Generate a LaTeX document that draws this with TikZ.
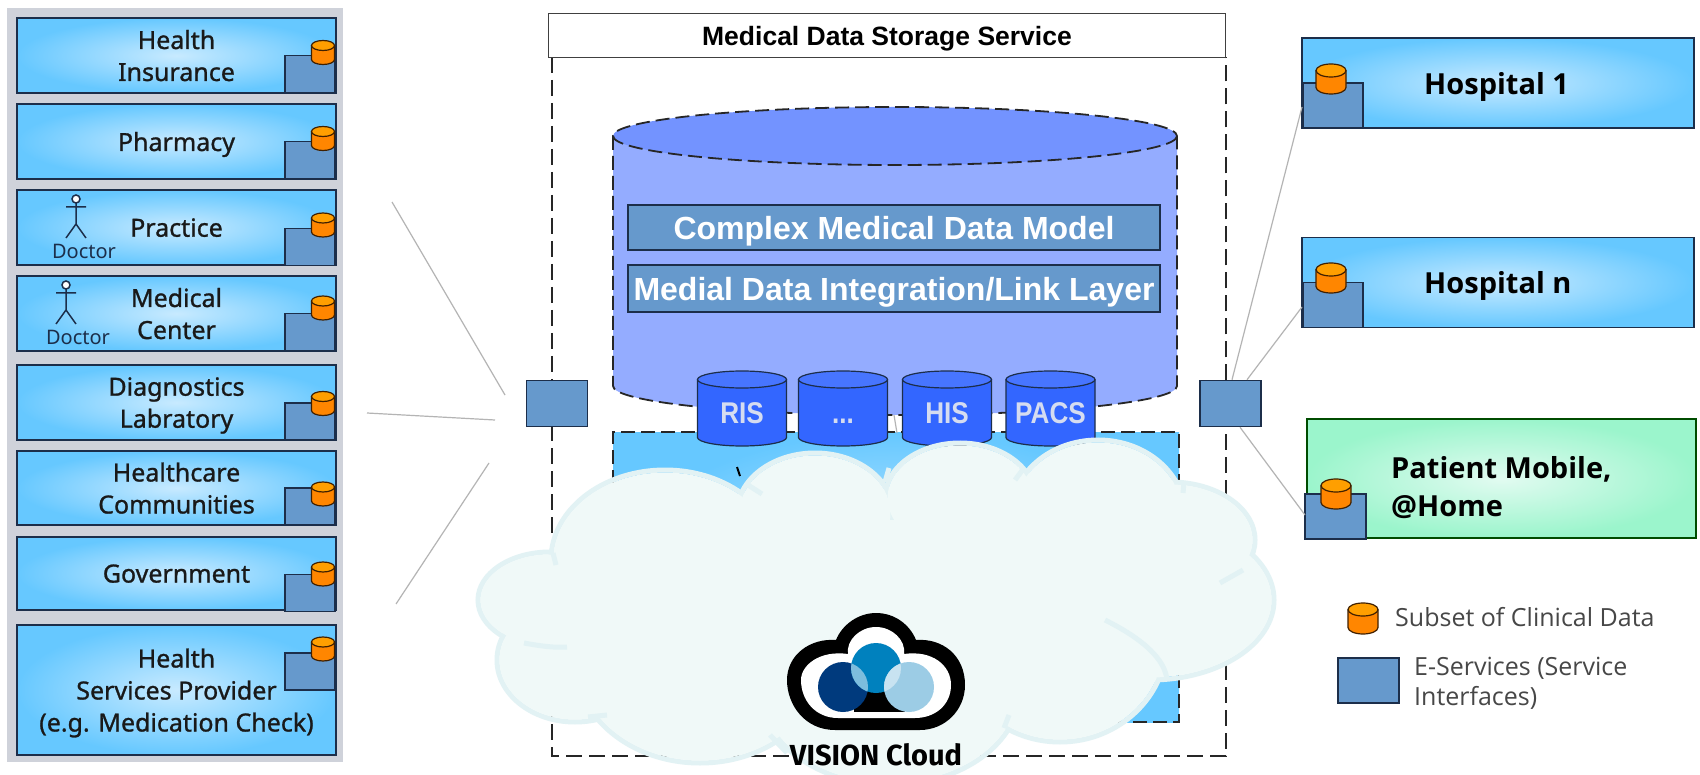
\documentclass[tikz,border=0pt]{standalone}
\usepackage{fontspec}
\setmainfont{Noto Sans}
\newfontfamily\orgfont[FakeBold=1]{Noto Sans}
\newfontfamily\sitefont{Open Sans}
\newfontfamily\titlefont{Liberation Sans}
\newfontfamily\sourcefont[FakeStretch=0.87]{Liberation Sans}
\newfontfamily\legendfont{Open Sans}
\newfontfamily\logofont{Fira Sans}
\usetikzlibrary{
	calc,
	positioning,
	shapes,
}
\definecolor{panelgray}{HTML}{CFD2DA}
\definecolor{skyedge}{HTML}{66C8FF}
\definecolor{skymid}{HTML}{C8EAFF}
\definecolor{mintedge}{HTML}{9BF5CC}
\definecolor{mintmid}{HTML}{E2FBF1}
\definecolor{svcblue}{HTML}{6699CC}
\definecolor{darkline}{HTML}{1C2E4A}
\definecolor{cloudfill}{HTML}{F0F9F8}
\definecolor{cloudline}{HTML}{E2F2F4}
\definecolor{linkgray}{HTML}{B4B4B4}
\definecolor{srcblue}{HTML}{3366FF}
\definecolor{srctext}{HTML}{D5DCF0}
\definecolor{basebody}{HTML}{94ACFF}
\definecolor{baseend}{HTML}{7393FF}
\tikzset{org node/.style={
	draw=darkline,
	line width=1.8pt,
	inner color=skymid,
	outer color=skyedge,
	inner sep=0pt,
	align=center,
	minimum width=319pt,
	text depth=-2pt,
	text=black!90,
	font=\orgfont\fontsize{25}{32}\selectfont,
}}
\tikzset{site node/.style={
	org node,
	minimum width=392pt,
	minimum height=90pt,
}}
\tikzset{site text/.style={
	anchor=west,
	inner sep=0pt,
	align=left,
	text depth=0pt,
	text=black,
	font=\sitefont\fontsize{29}{38}\selectfont\bfseries,
}}
\tikzset{service node/.style={
	draw=darkline,
	line width=1.5pt,
	fill=svcblue,
	inner sep=0pt,
	minimum width=50pt,
	minimum height=37pt,
}}
\tikzset{db body/.style={
	draw=black!75!orange,
	line width=1.2pt,
	fill=orange!95!yellow,
}}
\tikzset{db end/.style={
	db body,
	fill=orange!75!yellow,
}}
\tikzset{db label/.style={
	inner sep=0pt,
}}
\tikzset{source body/.style={
	draw=darkline,
	line width=1.2pt,
	fill=srcblue,
}}
\tikzset{source end/.style={
	source body,
	fill=srcblue!90!white,
}}
\tikzset{source label/.style={
	inner sep=0pt,
	text height=21pt,
	text depth=0pt,
	text=srctext,
	font=\sourcefont\fontsize{30}{30}\selectfont\bfseries,
}}
\tikzset{base body/.style={
	draw=black!85,
	line width=1.8pt,
	dash pattern=on 14pt off 6pt,
	fill=basebody,
}}
\tikzset{base end/.style={
	base body,
	fill=baseend,
}}
\tikzset{base label/.style={
	inner sep=0pt,
}}
\tikzset{layer node/.style={
	draw=darkline,
	line width=1.5pt,
	fill=svcblue,
	minimum width=532pt,
	inner sep=0pt,
	text depth=0pt,
	text=white,
	font=\titlefont\fontsize{32}{32}\selectfont\bfseries,
}}
\tikzset{legend text/.style={
	anchor=west,
	inner sep=0pt,
	align=left,
	text=black!72,
	font=\legendfont\fontsize{25}{30}\selectfont,
}}
\tikzset{link/.style={
	draw=linkgray,
	line width=1.2pt,
}}
\tikzset{cloud hook/.style={
	draw=cloudline,
	line width=5pt,
}}
% name, x, y, width, height, end radius, look, text
\newcommand{\drum}[8]{
\draw[#7 body] ({#2-#4/2},{#3-#5/2+#6}) -- ({#2-#4/2},{#3+#5/2-#6})
	arc[start angle=180, end angle=0, x radius=#4/2, y radius=#6] -- ({#2+#4/2},{#3-#5/2+#6});
\draw[#7 end] (#2,{#3-#5/2+#6}) ellipse ({#4/2} and {#6});
\node[#7 label](#1) at (#2,{#3+#6/2}) {#8};
}

\begin{document}
\begin{tikzpicture}[x=1pt,y=-1pt]
\useasboundingbox (0,0) rectangle (1700,775);
\fill[white] (0,0) rectangle (1700,775);

% panel
\fill[panelgray] (7,8) rectangle (343,762);

\node[org node, minimum height=75pt](insurance)  at (176.5,55.5)  {Health\\Insurance};
\node[org node, minimum height=75pt](pharmacy)   at (176.5,141.5) {Pharmacy};
\node[org node, minimum height=75pt](practice)   at (176.5,227.5) {Practice};
\node[org node, minimum height=75pt](center)     at (176.5,313.5) {Medical\\Center};
\node[org node, minimum height=75pt, text depth=-7pt](lab) at (176.5,402.5) {Diagnostics\\Labratory};
\node[org node, minimum height=74pt](community)  at (176.5,488)   {Healthcare\\Communities};
\node[org node, minimum height=73pt, text depth=-5pt](government) at (176.5,573.5) {Government};
\node[org node, minimum height=130pt](provider)  at (176.5,690)   {Health\\Services Provider\\(e.g. Medication Check)};

% e-services and data subsets
\foreach \name/\sy/\dy in {insurance/74/52.5, pharmacy/160/138.5, practice/247/225, center/332/308,
	lab/421.5/403.5, community/506.5/494, government/593/574, provider/671.5/649}{
	\node[service node](s\name) at (310,\sy) {};
	\drum{d\name}{323}{\dy}{23}{24}{5}{db}{}
}

% doctors
\newcommand{\doctor}[2]{
\draw[darkline, line width=1.5pt] (#1,#2+4) -- (#1,#2+25) -- (#1-10,#2+39) (#1,#2+25) -- (#1+10,#2+39)
	(#1-10,#2+8) -- (#1+10,#2+8);
\draw[darkline, line width=1.5pt, fill=white] (#1,#2) circle (4pt);
}
\doctor{76}{199}
\doctor{66}{285}
\node[text=darkline, font=\fontsize{20}{20}\selectfont](doc1) at (84,251) {Doctor};
\node[text=darkline, font=\fontsize{20}{20}\selectfont](doc2) at (78,337) {Doctor};

% links on the left
\coordinate (a1) at (392,202);
\coordinate (a2) at (505,395);
\coordinate (b1) at (367,413);
\coordinate (b2) at (495,420);
\coordinate (c1) at (396,604);
\coordinate (c2) at (489,463);
\draw[link] (a1) -- (a2);
\draw[link] (b1) -- (b2);
\draw[link] (c1) -- (c2);

% storage service
\draw[black!85, line width=2pt, dash pattern=on 16pt off 7pt] (552,57) -- (552,756) -- (1225.5,756) -- (1225.5,57);
\node[draw=black!75, line width=1.8pt, fill=white, minimum width=677pt, minimum height=44pt, inner sep=0pt,
	text depth=0pt, font=\titlefont\fontsize{26.5}{26.5}\selectfont\bfseries](title) at (887,35.5) {Medical Data Storage Service};

\node[draw=black!85, line width=1.8pt, dash pattern=on 14pt off 6pt, inner color=skymid, outer color=skyedge,
	minimum width=566pt, minimum height=290pt, inner sep=0pt](store) at (896,577) {};

\drum{cdb}{895}{261}{564}{308}{29}{base}{}

\node[layer node, minimum height=45pt](model) at (894,227.5) {Complex Medical Data Model};
\node[layer node, minimum height=47pt](integration) at (894,288.5) {Medial Data Integration/Link Layer};

\drum{ris}{742}{408.5}{89}{75}{8.5}{source}{RIS}
\drum{more}{843}{408.5}{89}{75}{8.5}{source}{...}
\drum{his}{947}{408.5}{89}{75}{8.5}{source}{HIS}
\drum{pacs}{1050.5}{408.5}{89}{75}{8.5}{source}{PACS}

\coordinate (g1) at (894,415);
\coordinate (g2) at (897,433);
\draw[link] (g1) -- (g2);
\draw[black, line width=2pt] (737,467) -- (740,476);

% service interfaces
\node[service node, minimum width=61pt, minimum height=46pt](left)  at (557,403.5) {};
\node[service node, minimum width=61pt, minimum height=46pt](right) at (1230.5,403.5) {};

% cloud
\newcommand{\cloudlobes}{550/600/72/48, 665/560/114/90, 815/513/78/60, 960/498/75/55, 1098/515/87/75,
	1170/540/85/58, 1150/600/124/80, 1060/640/107/102, 890/690/130/95, 700/660/125/103, 575/660/78/62}
\begin{scope}
\clip (0,0) rectangle (1700,775);
\foreach \cx/\cy/\rx/\ry in \cloudlobes{
	\draw[cloudline, line width=5pt] (\cx,\cy) ellipse ({\rx} and {\ry});
}
\foreach \cx/\cy/\rx/\ry in \cloudlobes{
	\fill[cloudfill] (\cx,\cy) ellipse ({\rx-2.5} and {\ry-2.5});
}
\end{scope}
\fill[cloudfill] (600,520) rectangle (1150,690);

% hooks between the lobes
\draw[cloud hook] (553,553) -- (556,565);
\draw[cloud hook] (524,643) .. controls (540,646) and (555,648) .. (567,647);
\draw[cloud hook] (748,485) -- (762,494);
\draw[cloud hook] (889,468) -- (885,482);
\draw[cloud hook] (1024,468) -- (1015,480);
\draw[cloud hook] (1184,482) -- (1183,493);
\draw[cloud hook] (1243,570) -- (1220,583);
\draw[cloud hook] (1105,620) .. controls (1145,640) and (1165,660) .. (1167,680);
\draw[cloud hook] (1009,715) -- (1004,728);
\draw[cloud hook] (770,735) -- (787,753);
\draw[cloud hook] (607,715) -- (588,717);

% logo
\fill[black] (835,730) .. controls (805,730) and (787,705) .. (787,680)
	.. controls (787,655) and (810,638) .. (836,640)
	.. controls (842,625) and (858,613) .. (876,613)
	.. controls (895,613) and (910,625) .. (916,640)
	.. controls (942,638) and (965,655) .. (965,685)
	.. controls (965,710) and (945,730) .. (920,730) -- cycle;
\fill[white] (838,718) .. controls (815,718) and (801,700) .. (801,680)
	.. controls (801,665) and (820,650) .. (848,654)
	.. controls (846,640) and (860,627) .. (876,627)
	.. controls (892,627) and (906,640) .. (904,654)
	.. controls (932,650) and (951,665) .. (951,685)
	.. controls (951,705) and (935,718) .. (915,718) -- cycle;
\fill[black] (854,690) rectangle (905,712);
\definecolor{logodark}{HTML}{003A7D}
\definecolor{logoteal}{HTML}{0081BE}
\definecolor{logolight}{HTML}{9CCCE5}
\fill[logodark] (843,687) ellipse (25 and 25);
\fill[logoteal] (876,668) ellipse (25 and 25);
\fill[logolight] (909,687) ellipse (25 and 25);
\begin{scope}
\clip (876,668) ellipse (25 and 25);
\fill[logolight!80!logoteal] (843,687) ellipse (25 and 25);
\fill[logolight!55!white] (909,687) ellipse (25 and 25);
\end{scope}
\node[font=\logofont\fontsize{29}{29}\selectfont\bfseries, inner sep=0pt](vision) at (876,755) {VISION Cloud};

% sites
\node[site node](hosp1) at (1498,83)  {};
\node[site node](hospn) at (1498,282.5) {};
\node[site node, inner color=mintmid, outer color=mintedge, draw=black!70!green, minimum width=389pt, minimum height=119pt](patient) at (1501.5,478.5) {};
\node[site text](hosp1text) at (1424,83) {Hospital 1};
\node[site text](hospntext) at (1424,282) {Hospital n};
\node[site text](patienttext) at (1391,486) {Patient Mobile,\\@Home};

\node[service node, minimum width=60pt, minimum height=45pt](shosp1) at (1333,105.5) {};
\drum{dhosp1}{1331}{79}{30}{30}{6.5}{db}{}
\node[service node, minimum width=60pt, minimum height=45pt](shospn) at (1333,305) {};
\drum{dhospn}{1331}{278}{30}{30}{6.5}{db}{}
\node[service node, minimum width=61pt, minimum height=45pt](spatient) at (1335.5,516.5) {};
\drum{dpatient}{1336}{494}{30}{30}{6.5}{db}{}

% links on the right
\coordinate (h1) at (1302,107);
\coordinate (h2) at (1302,307);
\coordinate (h3) at (1305,515);
\draw[link] (right.north) ++(1.5,0) -- (h1);
\draw[link] (right.north) ++(16.5,0) -- (h2);
\draw[link] (right.south) ++(9.5,0) -- (h3);

% legend
\drum{legdb}{1363}{618.5}{30}{31}{6.5}{db}{}
\node[service node, minimum width=61pt, minimum height=45pt](legsvc) at (1368.5,680.5) {};
\node[legend text](legdbtext) at (1395,617) {Subset of Clinical Data};
\node[legend text](legsvctext) at (1414,683) {E-Services (Service\\Interfaces)};
\end{tikzpicture}
\end{document}
